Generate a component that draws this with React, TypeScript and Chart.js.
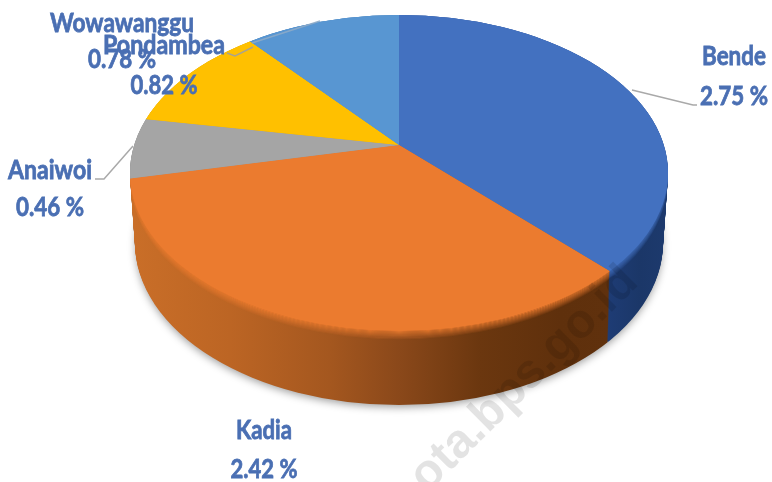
import React, { useEffect, useRef } from "react";
import { Chart, registerables } from "chart.js";

Chart.register(...registerables);

const categories = ["Bende", "Kadia", "Anaiwoi", "Pondambea", "Wowawanggu"];
const seriesValues = [2.75, 2.42, 0.46, 0.82, 0.78];
const sliceColors = ["#4371C0", "#EB7B2F", "#A5A5A5", "#FFC000", "#5896D2"];
const watermarkText = "ota.bps.go.id";

// Layout of text and leader lines (screen pixels), in category order
const labelBoxes = [
  { cx: 734, nameY: 65, valueY: 105, nameW: 64, valueW: 68 },
  { cx: 264, nameY: 439, valueY: 478, nameW: 56, valueW: 67 },
  { cx: 50, nameY: 179, valueY: 216, nameW: 84, valueW: 68 },
  { cx: 164, nameY: 54, valueY: 94, nameW: 122, valueW: 67 },
  { cx: 122, nameY: 32, valueY: 68, nameW: 144, valueW: 68 },
];
const leaders = [
  [[632, 90], [693, 105], [697, 105]],
  [],
  [[133, 146], [104, 179], [95, 179]],
  [[253, 47], [235, 56], [227, 53]],
  [[320, 21], [252, 43]],
];

// Projection of the flat pie onto the tilted disc
const VERTEX = { x: 399, y: 145 };
const SQUASH = 0.56;
const DRAW_RADIUS = 340;
const TOP = { cx: 399, cy: 173, rx: 269, ry: 158 };
const BOTTOM = { cx: 399, cy: 243, rx: 264, ry: 162 };
const DEPTH = 72;
const BEVEL = 9;

const sideStops: Array<Array<[number, string]>> = [
  [[600, "#1F3D78"], [640, "#1B3768"], [670, "#1D3A6E"]],
  [[135, "#C96E28"], [230, "#BC6524"], [330, "#A4571F"], [400, "#8A481A"], [480, "#6B370F"], [560, "#5F300C"], [610, "#60310D"]],
  [[130, "#7A7A7A"], [160, "#777777"]],
  [[150, "#B88A00"], [260, "#B88A00"]],
  [[250, "#3E6E9E"], [400, "#3E6E9E"]],
];

function withProjection(ctx: CanvasRenderingContext2D, arc: any, dy: number) {
  const k = DRAW_RADIUS / arc.outerRadius;
  ctx.translate(VERTEX.x, VERTEX.y + dy);
  ctx.scale(k, k * SQUASH);
  ctx.translate(-arc.x, -arc.y);
}

const flatOptions = (backgroundColor: any) => ({
  backgroundColor,
  borderColor: "transparent",
  borderWidth: 0,
  borderAlign: "center",
  borderDash: [],
  borderDashOffset: 0,
  borderRadius: 0,
  circular: true,
  offset: 0,
  spacing: 0,
});

const disc3d = {
  id: "disc3d",
  beforeDatasetsDraw(chart: any) {
    const ctx: CanvasRenderingContext2D = chart.ctx;
    const arcs = chart.getDatasetMeta(0).data;
    const first = arcs[0];
    const k = DRAW_RADIUS / first.outerRadius;
    const toChartX = (x: number) => (x - VERTEX.x) / k + first.x;

    // soft shadow below the disc
    ctx.save();
    ctx.shadowColor = "rgba(0,0,0,0.4)";
    ctx.shadowBlur = 9;
    ctx.shadowOffsetY = 3;
    ctx.fillStyle = "#fff";
    ctx.beginPath();
    ctx.ellipse(BOTTOM.cx, BOTTOM.cy, BOTTOM.rx - 1, BOTTOM.ry - 1, 0, 0, Math.PI * 2);
    ctx.fill();
    ctx.restore();

    const gradients = sideStops.map((stops) => {
      const a = stops[0][0];
      const b = stops[stops.length - 1][0];
      const g = ctx.createLinearGradient(toChartX(a), 0, toChartX(b), 0);
      stops.forEach(([x, c]) => g.addColorStop((x - a) / (b - a), c));
      return g;
    });

    for (let dy = DEPTH; dy >= 0; dy--) {
      const t = dy / DEPTH;
      const cx = TOP.cx + (BOTTOM.cx - TOP.cx) * t;
      const cy = TOP.cy + (BOTTOM.cy - TOP.cy) * t;
      const rx = TOP.rx + (BOTTOM.rx - TOP.rx) * t;
      const ry = TOP.ry + (BOTTOM.ry - TOP.ry) * t;
      ctx.save();
      ctx.beginPath();
      ctx.ellipse(cx, cy, rx, ry, 0, 0, Math.PI * 2);
      ctx.clip();
      withProjection(ctx, first, dy);
      arcs.forEach((arc: any, i: number) => {
        const keep = arc.options;
        arc.options = flatOptions(gradients[i]);
        arc.draw(ctx);
        if (dy < BEVEL) {
          ctx.globalAlpha = 1 - dy / BEVEL;
          arc.options = flatOptions(sliceColors[i]);
          arc.draw(ctx);
          ctx.globalAlpha = 1;
        }
        arc.options = keep;
      });
      ctx.restore();
    }

    // the library then draws the top face through this projection
    ctx.save();
    ctx.beginPath();
    ctx.ellipse(TOP.cx, TOP.cy, TOP.rx, TOP.ry, 0, 0, Math.PI * 2);
    ctx.clip();
    withProjection(ctx, first, 0);
  },
  afterDatasetsDraw(chart: any) {
    const ctx: CanvasRenderingContext2D = chart.ctx;
    ctx.restore();

    // watermark
    ctx.save();
    ctx.translate(433, 488);
    ctx.rotate((-44.6 * Math.PI) / 180);
    ctx.font = 'bold 48px "Liberation Sans"';
    ctx.fillStyle = "rgba(0,0,0,0.11)";
    ctx.textAlign = "left";
    ctx.textBaseline = "alphabetic";
    ctx.fillText(watermarkText, -8, 0);
    ctx.restore();

    // leader lines
    ctx.save();
    ctx.lineWidth = 1.5;
    leaders.forEach((pts, i) => {
      if (!pts.length) return;
      ctx.strokeStyle = i === 4 ? "rgba(140,170,200,0.9)" : "rgba(160,160,160,0.9)";
      ctx.beginPath();
      pts.forEach(([x, y], j) => (j ? ctx.lineTo(x, y) : ctx.moveTo(x, y)));
      ctx.stroke();
    });
    ctx.restore();

    // labels
    ctx.save();
    ctx.font = 'bold 27px "Lato"';
    ctx.fillStyle = "#4A6FB3";
    ctx.strokeStyle = "#4A6FB3";
    ctx.lineWidth = 0.8;
    ctx.textAlign = "center";
    ctx.textBaseline = "alphabetic";
    categories.forEach((name, i) => {
      const b = labelBoxes[i];
      const value = `${seriesValues[i].toFixed(2)} %`;
      ctx.fillText(name, b.cx, b.nameY, b.nameW);
      ctx.strokeText(name, b.cx, b.nameY, b.nameW);
      ctx.fillText(value, b.cx, b.valueY, b.valueW);
      ctx.strokeText(value, b.cx, b.valueY, b.valueW);
    });
    ctx.restore();
  },
};

export default function App() {
  const ref = useRef<HTMLCanvasElement>(null);
  useEffect(() => {
    document.body.style.margin = "0";
    document.body.style.background = "#fff";
    const chart = new Chart(ref.current!, {
      type: "pie",
      data: {
        labels: categories,
        datasets: [
          {
            data: seriesValues,
            backgroundColor: sliceColors,
            borderWidth: 0,
            clip: false,
          } as any,
        ],
      },
      options: {
        responsive: false,
        animation: false,
        layout: { padding: 0 },
        plugins: { legend: { display: false }, tooltip: { enabled: false } },
      },
      plugins: [disc3d],
    });
    return () => chart.destroy();
  }, []);
  return (
    <canvas
      ref={ref}
      width={772}
      height={482}
      style={{ display: "block", width: 772, height: 482, filter: "blur(0.6px)" }}
    />
  );
}
